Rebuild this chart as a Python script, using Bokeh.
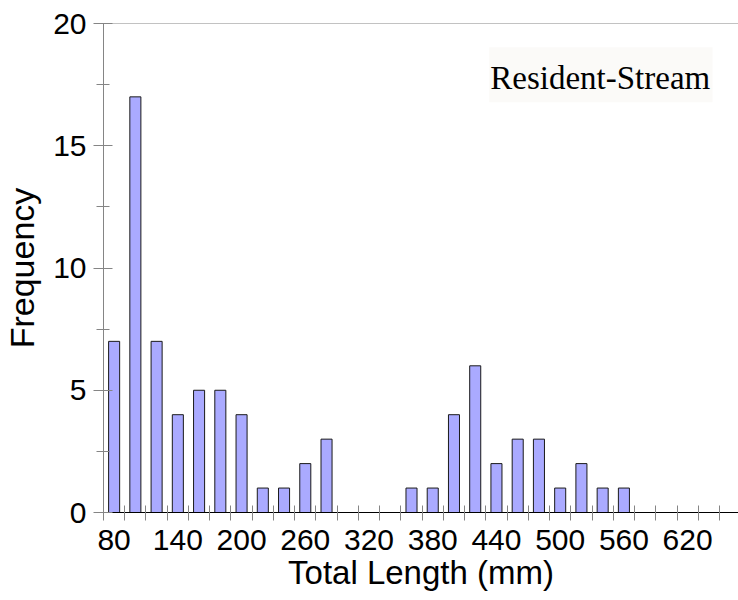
from bokeh.plotting import figure
from bokeh.models import Range1d, FixedTicker, Span, Label, BoxAnnotation
from bokeh.embed import file_html
from bokeh.resources import INLINE

# ---- data ----
bin_centers = [80, 100, 120, 140, 160, 180, 200, 220, 240, 260,
               280, 300, 320, 340, 360, 380, 400, 420, 440, 460,
               480, 500, 520, 540, 560, 580, 600, 620, 640, 660]
frequency = [7, 17, 7, 4, 5, 5, 4, 1, 1, 2,
             3, 0, 0, 0, 1, 1, 4, 6, 2, 3,
             3, 1, 2, 1, 1, 0, 0, 0, 0, 0]
bin_edges = [70, 90, 110, 130, 150, 170, 190, 210, 230, 250,
             270, 290, 310, 330, 350, 370, 390, 410, 430, 450,
             470, 490, 510, 530, 550, 570, 590, 610, 630, 650]
x_tick_values = [80, 140, 200, 260, 320, 380, 440, 500, 560, 620]
y_tick_values = [0, 5, 10, 15, 20]
y_minor_values = [2.5, 7.5, 12.5, 17.5]
series_label = "Resident-Stream"

SANS = "Liberation Sans"
SERIF = "Liberation Serif"
GRAY = "#858585"

p = figure(width=738, height=600, output_backend="svg", toolbar_location=None,
           x_range=Range1d(70, 667.9), y_range=Range1d(0, 20),
           min_border_left=101, min_border_right=0, min_border_top=23,
           min_border_bottom=88)
p.outline_line_color = None
p.xgrid.visible = False
p.ygrid.visible = False
p.background_fill_color = "white"
p.border_fill_color = "white"

p.vbar(x=bin_centers, top=frequency, width=10.4, bottom=0,
       fill_color="#aaaaff", line_color="#1a1a1a", line_width=1)

# x axis
xa = p.xaxis[0]
xa.ticker = FixedTicker(ticks=x_tick_values, minor_ticks=bin_edges)
xa.major_tick_in = 0
xa.major_tick_out = 0
xa.minor_tick_in = 7
xa.minor_tick_out = 8
xa.minor_tick_line_color = GRAY
xa.axis_line_color = "black"
xa.major_label_text_font = SANS
xa.major_label_text_font_size = "30px"
xa.major_label_text_color = "black"
xa.major_label_standoff = 9
xa.axis_label = "Total Length (mm)"
xa.axis_label_text_font = SANS
xa.axis_label_text_font_size = "33px"
xa.axis_label_text_font_style = "normal"
xa.axis_label_text_color = "black"
xa.axis_label_standoff = 1

# y axis
ya = p.yaxis[0]
ya.ticker = FixedTicker(ticks=y_tick_values, minor_ticks=y_minor_values)
ya.major_tick_in = 9
ya.major_tick_out = 10
ya.minor_tick_in = 6
ya.minor_tick_out = 7
ya.major_tick_line_color = GRAY
ya.minor_tick_line_color = GRAY
ya.axis_line_color = GRAY
ya.major_label_text_font = SANS
ya.major_label_text_font_size = "30px"
ya.major_label_text_color = "black"
ya.major_label_standoff = 7
ya.axis_label = "Frequency"
ya.axis_label_text_font = SANS
ya.axis_label_text_font_size = "34px"
ya.axis_label_text_font_style = "normal"
ya.axis_label_text_color = "black"
ya.axis_label_standoff = 9

# top border line
p.add_layout(Span(location=20, dimension="width", line_color=GRAY, line_width=1))

# label box
p.add_layout(BoxAnnotation(left=433.2, right=643.5, bottom=16.78, top=19.03,
                           fill_color="#fbfaf8", fill_alpha=1.0, line_color=None))
p.add_layout(Label(x=434.2, y=17.79, text=series_label, text_font=SERIF,
                   text_font_size="33px", text_color="black",
                   text_baseline="alphabetic", text_align="left"))

open("out.html", "w").write(file_html(p, INLINE))
